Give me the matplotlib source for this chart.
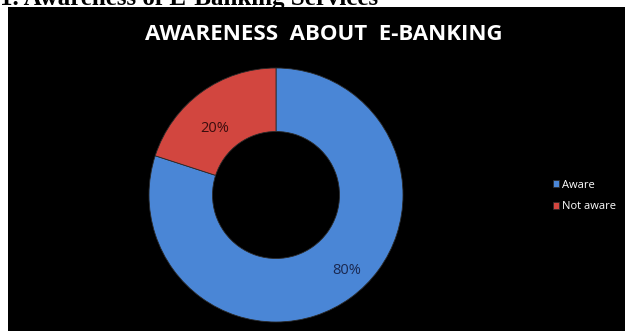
import matplotlib.pyplot as plt
from matplotlib.patches import Rectangle

# data
labels = ["Aware", "Not aware"]
shares = [80, 20]
colors = ["#4a86d6", "#d2463f"]
pct_colors = ["#1a2850", "#3a0d0d"]

fig = plt.figure(figsize=(6.25, 3.31), dpi=100)
fig.patch.set_facecolor("white")

# black chart area (white strip at top and left)
fig.patches.append(Rectangle((8 / 625, 0), 1, 1 - 7 / 331, transform=fig.transFigure,
                             facecolor="black", edgecolor="none", zorder=-5))

# heading from the document, cut off at the top
fig.text(0.0, 1 - 5 / 331, "1. Awareness of E-Banking Services", family="Liberation Serif",
         weight="bold", fontsize=18, color="black", ha="left", va="baseline", zorder=-4)

fig.text(324 / 625, 1 - 34 / 331, "AWARENESS  ABOUT  E-BANKING", family="Open Sans",
         weight="bold", fontsize=16, color="white", ha="center", va="center")

# donut
r = 127 / 331
ax = fig.add_axes([276 / 625 - r * 331 / 625, 1 - 195 / 331 - r, 2 * r * 331 / 625, 2 * r])
ax.set_facecolor("none")
wedges, _ = ax.pie(shares, colors=colors, startangle=90, counterclock=False,
                   wedgeprops=dict(width=0.5, edgecolor="#2a2a2a", linewidth=0.6))
ax.set_xlim(-1, 1)
ax.set_ylim(-1, 1)
ax.set_aspect("equal")
ax.axis("off")

# value labels
fig.text(347 / 625, 1 - 270 / 331, f"{shares[0]}%", color=pct_colors[0], fontsize=10.5,
         family="Open Sans", ha="center", va="center")
fig.text(215 / 625, 1 - 128 / 331, f"{shares[1]}%", color=pct_colors[1], fontsize=10.5,
         family="Open Sans", ha="center", va="center")

leg = fig.legend(wedges, labels, loc="center left", bbox_to_anchor=(543 / 625, 1 - 196 / 331),
                 frameon=False, handlelength=0.55, handleheight=0.55, handletextpad=0.3,
                 labelspacing=0.95, prop=dict(family="Open Sans", size=8))
for t in leg.get_texts():
    t.set_color("white")

plt.savefig("out.png", dpi=100, facecolor=fig.get_facecolor())
